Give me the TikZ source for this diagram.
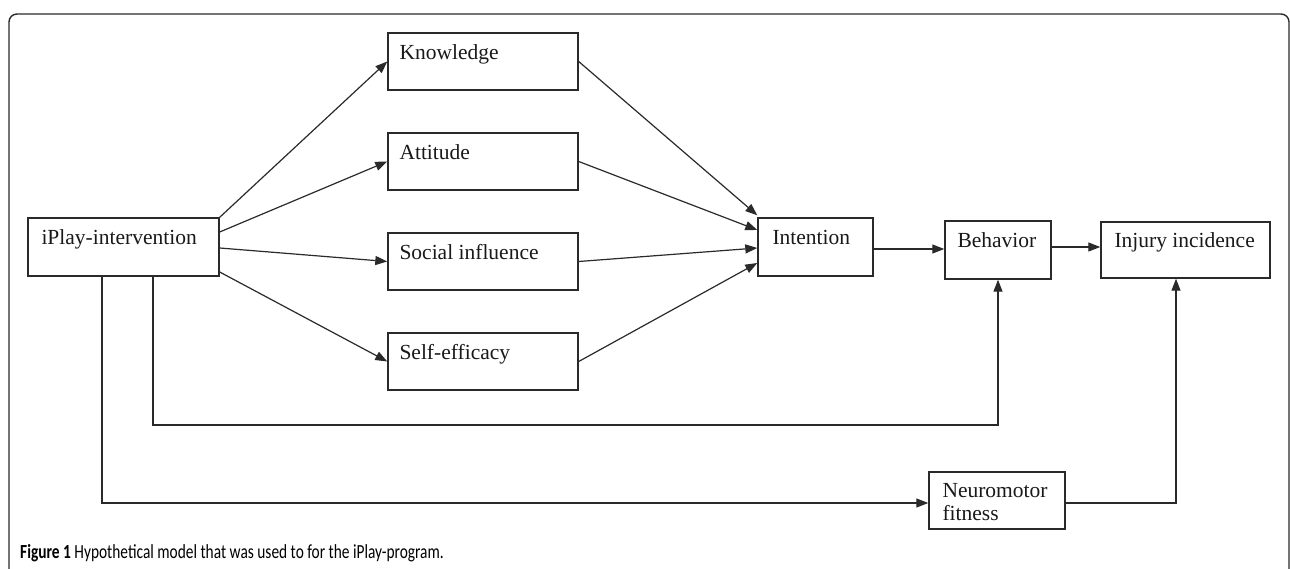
\documentclass[tikz,border=0pt]{standalone}
\usepackage{fontspec}
\setmainfont{Liberation Serif}
\newfontfamily\capfont{Carlito}
\usetikzlibrary{arrows.meta,calc}
\definecolor{ln}{HTML}{2A2A2A}
\tikzset{
  box/.style={draw=ln, line width=1.4pt, rectangle, inner sep=0pt},
  lbl/.style={anchor=base west, inner sep=0pt, font=\fontsize{21.5}{23}\selectfont, text=black!90},
  arr/.style={draw=ln, line width=1.2pt, -{Triangle[length=12pt,width=9pt]}},
  plain/.style={draw=ln, line width=1.2pt}
}
\begin{document}
\begin{tikzpicture}[x=1pt,y=-1pt]
\useasboundingbox (0,0) rectangle (1290,569);
\fill[white] (0,0) rectangle (1290,569);
% frame
\draw[ln, line width=1.4pt, rounded corners=8pt] (9,600) -- (9,14) -- (1289,14) -- (1289,600);
% boxes
\node[box, minimum width=191pt, minimum height=58pt] (ipl) at (123.5,247) {};
\node[box, minimum width=190pt, minimum height=57pt] (kn) at (483,61.5) {};
\node[box, minimum width=190pt, minimum height=57pt] (at) at (483,161.5) {};
\node[box, minimum width=190pt, minimum height=57pt] (so) at (483,261.5) {};
\node[box, minimum width=190pt, minimum height=57pt] (se) at (483,361.5) {};
\node[box, minimum width=115pt, minimum height=58pt] (int) at (815.5,247) {};
\node[box, minimum width=106pt, minimum height=58pt] (beh) at (998,250) {};
\node[box, minimum width=169pt, minimum height=56pt] (inj) at (1185.5,250) {};
\node[box, minimum width=136pt, minimum height=57pt] (neu) at (997,500.5) {};
% labels
\node[lbl] (iplt) at ($(ipl.north west)+(14,27)$) {iPlay-intervention};
\node[lbl] (knt) at ($(kn.north west)+(12,27)$) {Knowledge};
\node[lbl] (att) at ($(at.north west)+(12,27)$) {Attitude};
\node[lbl] (sot) at ($(so.north west)+(12,27)$) {Social influence};
\node[lbl] (set) at ($(se.north west)+(12,27)$) {Self-efficacy};
\node[lbl] (intt) at ($(int.north west)+(15,27)$) {Intention};
\node[lbl] (beht) at ($(beh.north west)+(13,27)$) {Behavior};
\node[lbl] (injt) at ($(inj.north west)+(14,26)$) {Injury incidence};
\node[lbl, align=left] (neut) at ($(neu.north west)+(14,49)$) {Neuromotor\\fitness};
% connectors from intervention
\draw[arr] (ipl.north east) -- (kn.west);
\draw[arr] ($(ipl.east)+(0,-15)$) -- (at.west);
\draw[arr] ($(ipl.east)+(0,1)$) -- (so.west);
\draw[arr] ($(ipl.east)+(0,25)$) -- (se.west);
% into intention
\draw[arr] (kn.east) -- ($(int.north west)+(0,-2)$);
\draw[arr] (at.east) -- ($(int.west)+(0,-17)$);
\draw[arr] (so.east) -- ($(int.west)+(0,1)$);
\draw[arr] (se.east) -- ($(int.west)+(0,16)$);
% chain
\draw[arr] ($(int.east)+(0,2)$) -- ($(beh.west)+(0,-1)$);
\draw[arr] ($(beh.east)+(0,-3)$) -- ($(inj.west)+(0,-3)$);
% lower paths
\coordinate (b1) at (153,425);
\coordinate (b2) at (102,503);
\coordinate (b3) at (1176,503);
\draw[arr] (ipl.south -| b1) -- (b1) -| (beh.south);
\draw[arr] (ipl.south -| b2) -- (b2) -- (neu.west |- b2);
\draw[arr] (neu.east |- b3) -- (b3) -- (inj.south -| b3);
% caption
\node[anchor=base west, inner sep=0pt, font=\capfont\fontsize{20}{22}\selectfont] (cap) at (20,558) {\scalebox{0.77}[1]{\textbf{Figure 1} Hypothetical model that was used to for the iPlay-program.}};
\end{tikzpicture}
\end{document}
